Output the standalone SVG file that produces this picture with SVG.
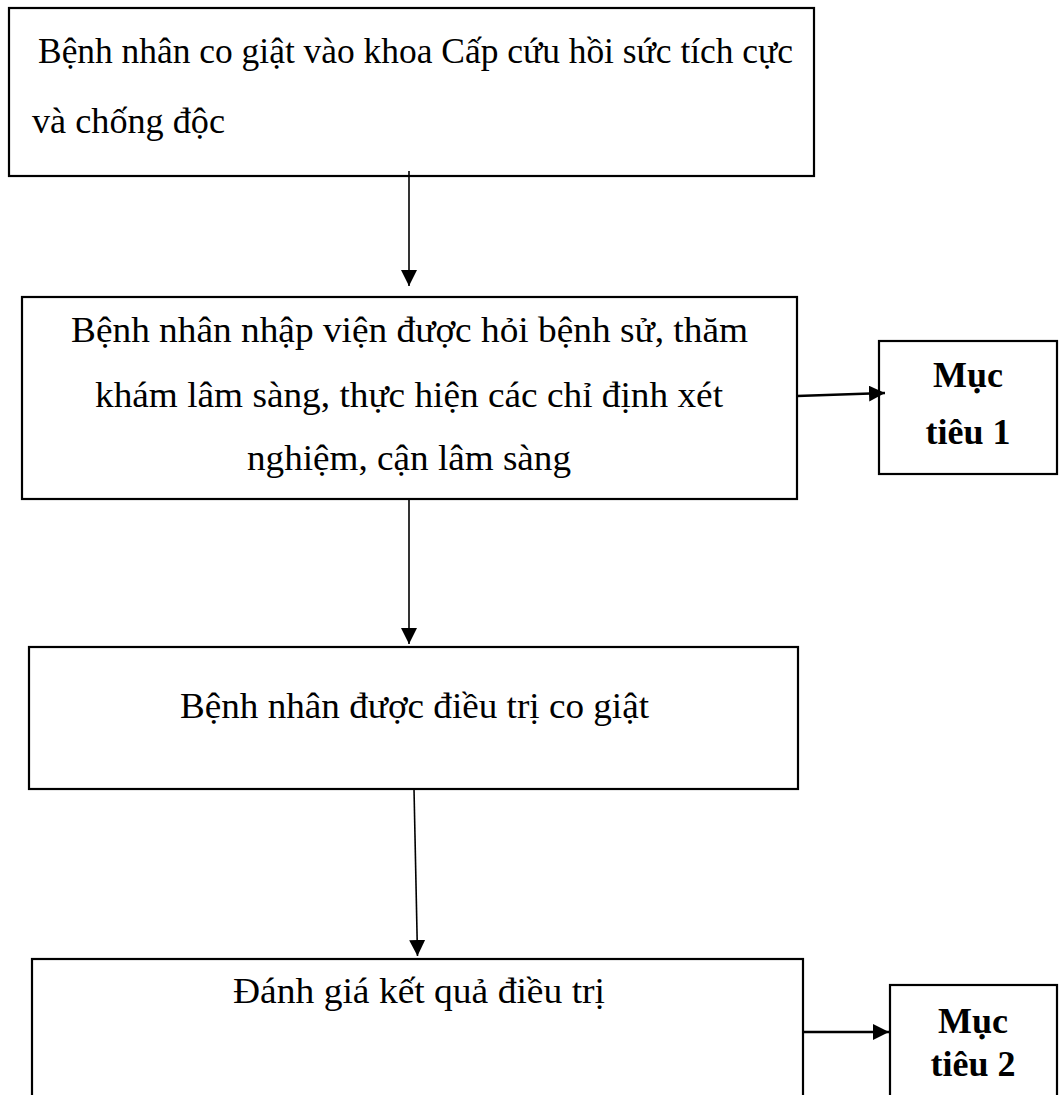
<svg xmlns="http://www.w3.org/2000/svg" width="1059" height="1095" viewBox="0 0 1059 1095">
<style>
.box{fill:#fff;stroke:#000;stroke-width:2.2}
.t{font-family:"Liberation Serif","Times New Roman",serif;font-size:36.5px;fill:#000}
.c{text-anchor:middle}
.b{font-weight:bold;font-size:36px}
.con{stroke:#000;stroke-width:1.6;fill:none}
.con2{stroke:#000;stroke-width:2.6;fill:none}
</style>
<defs>
<marker id="ah" markerUnits="userSpaceOnUse" markerWidth="18" markerHeight="18" refX="16" refY="8" orient="auto">
<path d="M0,0 L16,8 L0,16 Z" fill="#000"/>
</marker>
</defs>
<rect width="1059" height="1095" fill="#fff"/>
<g id="node1">
<rect class="box" x="9" y="8" width="805" height="168"/>
<text class="t" x="38" y="63" textLength="755" lengthAdjust="spacingAndGlyphs">Bệnh nhân co giật vào khoa Cấp cứu hồi sức tích cực</text>
<text class="t" x="32" y="133" textLength="193" lengthAdjust="spacingAndGlyphs">và chống độc</text>
</g>
<g id="node2">
<rect class="box" x="22" y="297" width="775" height="202"/>
<text class="t c" x="409.5" y="342" textLength="677" lengthAdjust="spacingAndGlyphs">Bệnh nhân nhập viện được hỏi bệnh sử, thăm</text>
<text class="t c" x="409" y="407" textLength="628" lengthAdjust="spacingAndGlyphs">khám lâm sàng, thực hiện các chỉ định xét</text>
<text class="t c" x="409" y="470" textLength="324" lengthAdjust="spacingAndGlyphs">nghiệm, cận lâm sàng</text>
</g>
<g id="goal1">
<rect class="box" x="879" y="341" width="178" height="133"/>
<text class="t b c" x="968" y="387">Mục</text>
<text class="t b c" x="968" y="444">tiêu 1</text>
</g>
<g id="node3">
<rect class="box" x="29" y="647" width="769" height="142"/>
<text class="t c" x="414.5" y="718" textLength="469" lengthAdjust="spacingAndGlyphs">Bệnh nhân được điều trị co giật</text>
</g>
<g id="node4">
<rect class="box" x="32" y="959" width="771" height="145"/>
<text class="t c" x="419" y="1003" textLength="372" lengthAdjust="spacingAndGlyphs">Đánh giá kết quả điều trị</text>
</g>
<g id="goal2">
<rect class="box" x="890" y="985" width="167" height="120"/>
<text class="t b c" x="973" y="1033">Mục</text>
<text class="t b c" x="973" y="1076">tiêu 2</text>
</g>
<g id="connectors">
<line class="con" x1="409" y1="171" x2="409" y2="286" marker-end="url(#ah)"/>
<line class="con" x1="409" y1="499" x2="409" y2="644" marker-end="url(#ah)"/>
<line class="con" x1="414" y1="789" x2="417.5" y2="956" marker-end="url(#ah)"/>
<line class="con2" x1="797" y1="396" x2="885" y2="393" marker-end="url(#ah)"/>
<line class="con2" x1="803" y1="1032" x2="889" y2="1032" marker-end="url(#ah)"/>
</g>
</svg>
